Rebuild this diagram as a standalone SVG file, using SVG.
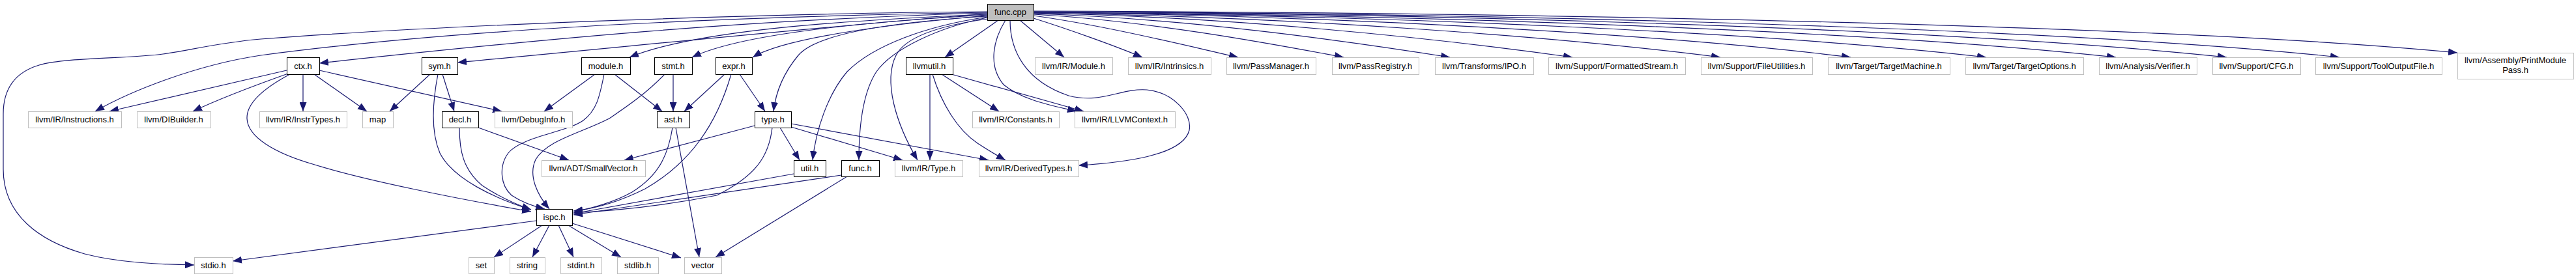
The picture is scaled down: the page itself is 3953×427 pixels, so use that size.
<svg xmlns="http://www.w3.org/2000/svg" width="3953" height="427" viewBox="0 0 3953 427">
<style>
rect{stroke-width:1}
.ext rect{fill:#fff;stroke:#bfbfbf}
.int rect{fill:#fff;stroke:#000}
.root rect{fill:#bfbfbf;stroke:#000}
text{font-family:"Liberation Sans",Arial,Helvetica,sans-serif;font-size:13px;text-anchor:middle;fill:#000}
#edges path{fill:none;stroke:#191970;stroke-width:1.2;marker-end:url(#a)}
</style>
<defs>
<marker id="a" markerUnits="userSpaceOnUse" markerWidth="14" markerHeight="11" viewBox="0 0 14 11" refX="14" refY="5.5" orient="auto"><path d="M0,0L14,5.5L0,11z" fill="#191970"/></marker>
</defs>
<rect width="3953" height="427" fill="#fff"/>
<g id="edges">
<path d="M1515,18 C1200,20 700,37 400,60 C330,66 290,78 250,83 C200,90 100,88 60,100 C20,112 5,140 5,175 L5,260 C5,330 60,370 130,390 C180,403 240,406 298,407"/>
<path d="M1515,19 C1100,26 700,45 400,85 C300,100 200,140 146,171"/>
<path d="M1515,20 C1150,30 850,58 490,97"/>
<path d="M1515,21 C1300,37 1000,68 702,96"/>
<path d="M1515,22 C1250,33 1060,50 966,88"/>
<path d="M1515,23 C1300,35 1130,55 1062,88"/>
<path d="M1515,24 C1350,38 1200,60 1155,88"/>
<path d="M1515,25 C1350,35 1250,55 1225,85 C1200,115 1190,145 1187,171"/>
<path d="M1515,26 C1420,40 1340,70 1300,110 C1270,145 1252,200 1247,246"/>
<path d="M1515,27 C1440,42 1370,75 1345,110 C1322,145 1318,200 1318,246"/>
<path d="M1516,29 C1450,38 1390,55 1375,85 C1355,125 1375,190 1408,246"/>
<path d="M1532,31 L1450,88"/>
<path d="M1543,31 C1525,60 1515,100 1540,130 C1570,155 1620,163 1652,171"/>
<path d="M1550,31 C1550,80 1575,125 1640,147 C1690,160 1720,135 1760,138 C1800,142 1830,175 1825,200 C1815,240 1720,250 1655,254"/>
<path d="M1565,31 L1633,88"/>
<path d="M1586,28 C1640,45 1710,70 1753,88"/>
<path d="M1586,24 C1700,40 1820,70 1900,88"/>
<path d="M1586,22 C1760,32 1940,65 2062,88"/>
<path d="M1586,21 C1820,28 2060,62 2225,88"/>
<path d="M1586,20 C1890,26 2200,58 2413,88"/>
<path d="M1586,20 C1970,25 2380,55 2640,88"/>
<path d="M1586,19 C2050,24 2550,52 2840,88"/>
<path d="M1586,19 C2130,23 2720,50 3048,88"/>
<path d="M1586,19 C2200,22 2880,48 3247,88"/>
<path d="M1586,18 C2270,21 3020,46 3417,88"/>
<path d="M1586,18 C2330,20 3180,44 3590,88"/>
<path d="M1586,17 C2400,19 3350,40 3771,81"/>
<path d="M440,108 L168,171"/>
<path d="M442,113 C400,128 340,150 296,171"/>
<path d="M465,114 L465,171"/>
<path d="M482,114 L563,171"/>
<path d="M490,108 L770,171"/>
<path d="M445,114 C415,130 378,155 379,182 C380,210 420,235 483,253 C560,277 700,305 815,325"/>
<path d="M660,114 L598,171"/>
<path d="M679,114 L697,171"/>
<path d="M672,114 C665,150 660,200 675,235 C695,275 760,305 815,322"/>
<path d="M705,196 C705,230 710,260 740,285 C770,305 795,315 815,322"/>
<path d="M734,196 L873,246"/>
<path d="M913,114 L835,171"/>
<path d="M943,114 L1016,171"/>
<path d="M927,114 C920,150 915,170 895,185 C870,203 800,210 780,235 C765,255 768,285 785,300 C800,310 815,316 836,321"/>
<path d="M1033,114 L1033,171"/>
<path d="M1020,114 C990,145 960,165 935,182 C890,205 840,215 822,245 C810,270 825,300 843,321"/>
<path d="M1112,114 L1050,171"/>
<path d="M1135,114 L1174,171"/>
<path d="M1122,114 C1100,190 1060,250 990,290 C940,315 900,322 880,324"/>
<path d="M1032,196 C1025,240 1010,270 970,295 C940,312 905,320 880,326"/>
<path d="M1037,196 L1073,395"/>
<path d="M1158,193 L958,246"/>
<path d="M1197,196 L1227,246"/>
<path d="M1185,196 C1180,240 1160,270 1100,300 C1000,320 920,325 880,327"/>
<path d="M1214,195 L1385,246"/>
<path d="M1214,190 L1517,246"/>
<path d="M1218,267 L880,328"/>
<path d="M1291,269 L880,330"/>
<path d="M1300,271 L1098,395"/>
<path d="M1427,114 L1427,246"/>
<path d="M1445,114 L1533,171"/>
<path d="M1460,114 L1663,171"/>
<path d="M1431,114 C1445,160 1470,200 1500,220 C1520,233 1532,240 1543,246"/>
<path d="M823,339 L357,401"/>
<path d="M832,346 L758,395"/>
<path d="M843,346 L817,395"/>
<path d="M857,346 L880,395"/>
<path d="M872,346 L953,395"/>
<path d="M878,343 L1045,396"/>
</g>
<g id="n_func_cpp" class="root"><rect x="1515.5" y="6.5" width="71" height="25"/><text x="1550.5" y="23">func.cpp</text></g>
<g id="n_ctx_h" class="int"><rect x="440.5" y="88.5" width="50" height="26"/><text x="465" y="105.5">ctx.h</text></g>
<g id="n_sym_h" class="int"><rect x="647.5" y="88.5" width="55" height="26"/><text x="674.5" y="105.5">sym.h</text></g>
<g id="n_module_h" class="int"><rect x="892.5" y="88.5" width="75" height="26"/><text x="929.5" y="105.5">module.h</text></g>
<g id="n_stmt_h" class="int"><rect x="1004.5" y="88.5" width="58" height="26"/><text x="1033" y="105.5">stmt.h</text></g>
<g id="n_expr_h" class="int"><rect x="1098.5" y="88.5" width="56" height="26"/><text x="1126" y="105.5">expr.h</text></g>
<g id="n_llvmutil_h" class="int"><rect x="1390.5" y="88.5" width="72" height="26"/><text x="1426" y="105.5">llvmutil.h</text></g>
<g id="n_ir_module" class="ext"><rect x="1588.5" y="88.5" width="119" height="26"/><text x="1647.5" y="105.5">llvm/IR/Module.h</text></g>
<g id="n_ir_intrinsics" class="ext"><rect x="1731.5" y="88.5" width="127" height="26"/><text x="1794.5" y="105.5">llvm/IR/Intrinsics.h</text></g>
<g id="n_passmanager" class="ext"><rect x="1882.5" y="88.5" width="137" height="26"/><text x="1950.5" y="105.5">llvm/PassManager.h</text></g>
<g id="n_passregistry" class="ext"><rect x="2044.5" y="88.5" width="133" height="26"/><text x="2110.5" y="105.5">llvm/PassRegistry.h</text></g>
<g id="n_ipo" class="ext"><rect x="2202.5" y="88.5" width="151" height="26"/><text x="2277.5" y="105.5">llvm/Transforms/IPO.h</text></g>
<g id="n_formattedstream" class="ext"><rect x="2376.5" y="88.5" width="210" height="26"/><text x="2481" y="105.5">llvm/Support/FormattedStream.h</text></g>
<g id="n_fileutilities" class="ext"><rect x="2610.5" y="88.5" width="171" height="26"/><text x="2695.5" y="105.5">llvm/Support/FileUtilities.h</text></g>
<g id="n_targetmachine" class="ext"><rect x="2805.5" y="88.5" width="187" height="26"/><text x="2898.5" y="105.5">llvm/Target/TargetMachine.h</text></g>
<g id="n_targetoptions" class="ext"><rect x="3016.5" y="88.5" width="181" height="26"/><text x="3106.5" y="105.5">llvm/Target/TargetOptions.h</text></g>
<g id="n_verifier" class="ext"><rect x="3221.5" y="88.5" width="150" height="26"/><text x="3296" y="105.5">llvm/Analysis/Verifier.h</text></g>
<g id="n_cfg" class="ext"><rect x="3395.5" y="88.5" width="135" height="26"/><text x="3462.5" y="105.5">llvm/Support/CFG.h</text></g>
<g id="n_tooloutputfile" class="ext"><rect x="3553.5" y="88.5" width="194" height="26"/><text x="3650" y="105.5">llvm/Support/ToolOutputFile.h</text></g>
<g id="n_printmodulepass" class="ext"><rect x="3771.5" y="81.5" width="178" height="40"/><text x="3860" y="97">llvm/Assembly/PrintModule</text><text x="3860" y="112">Pass.h</text></g>
<g id="n_instructions" class="ext"><rect x="43.5" y="171.5" width="143" height="25"/><text x="114.5" y="188">llvm/IR/Instructions.h</text></g>
<g id="n_dibuilder" class="ext"><rect x="210.5" y="171.5" width="113" height="25"/><text x="266.5" y="188">llvm/DIBuilder.h</text></g>
<g id="n_instrtypes" class="ext"><rect x="398.5" y="171.5" width="134" height="25"/><text x="465" y="188">llvm/IR/InstrTypes.h</text></g>
<g id="n_map" class="ext"><rect x="556.5" y="171.5" width="47" height="25"/><text x="579.5" y="188">map</text></g>
<g id="n_decl_h" class="int"><rect x="678.5" y="171.5" width="56" height="25"/><text x="706" y="188">decl.h</text></g>
<g id="n_debuginfo" class="ext"><rect x="759.5" y="171.5" width="119" height="25"/><text x="818.5" y="188">llvm/DebugInfo.h</text></g>
<g id="n_ast_h" class="int"><rect x="1008.5" y="171.5" width="50" height="25"/><text x="1033" y="188">ast.h</text></g>
<g id="n_type_h" class="int"><rect x="1158.5" y="171.5" width="56" height="25"/><text x="1186" y="188">type.h</text></g>
<g id="n_constants" class="ext"><rect x="1492.5" y="171.5" width="133" height="25"/><text x="1558.5" y="188">llvm/IR/Constants.h</text></g>
<g id="n_llvmcontext" class="ext"><rect x="1649.5" y="171.5" width="154" height="25"/><text x="1726" y="188">llvm/IR/LLVMContext.h</text></g>
<g id="n_smallvector" class="ext"><rect x="831.5" y="246.5" width="159" height="25"/><text x="910.5" y="263">llvm/ADT/SmallVector.h</text></g>
<g id="n_util_h" class="int"><rect x="1218.5" y="246.5" width="49" height="25"/><text x="1242.5" y="263">util.h</text></g>
<g id="n_func_h" class="int"><rect x="1291.5" y="246.5" width="58" height="25"/><text x="1320" y="263">func.h</text></g>
<g id="n_ir_type" class="ext"><rect x="1373.5" y="246.5" width="104" height="25"/><text x="1425" y="263">llvm/IR/Type.h</text></g>
<g id="n_derivedtypes" class="ext"><rect x="1502.5" y="246.5" width="153" height="25"/><text x="1578.5" y="263">llvm/IR/DerivedTypes.h</text></g>
<g id="n_ispc_h" class="int"><rect x="823.5" y="321.5" width="55" height="25"/><text x="850.5" y="338">ispc.h</text></g>
<g id="n_stdio" class="ext"><rect x="298.5" y="395.5" width="59" height="25"/><text x="327.5" y="412">stdio.h</text></g>
<g id="n_set" class="ext"><rect x="719.5" y="395.5" width="39" height="25"/><text x="738.5" y="412">set</text></g>
<g id="n_string" class="ext"><rect x="782.5" y="395.5" width="54" height="25"/><text x="809" y="412">string</text></g>
<g id="n_stdint" class="ext"><rect x="860.5" y="395.5" width="63" height="25"/><text x="891.5" y="412">stdint.h</text></g>
<g id="n_stdlib" class="ext"><rect x="947.5" y="395.5" width="63" height="25"/><text x="978.5" y="412">stdlib.h</text></g>
<g id="n_vector" class="ext"><rect x="1050.5" y="395.5" width="57" height="25"/><text x="1078.5" y="412">vector</text></g>
</svg>
